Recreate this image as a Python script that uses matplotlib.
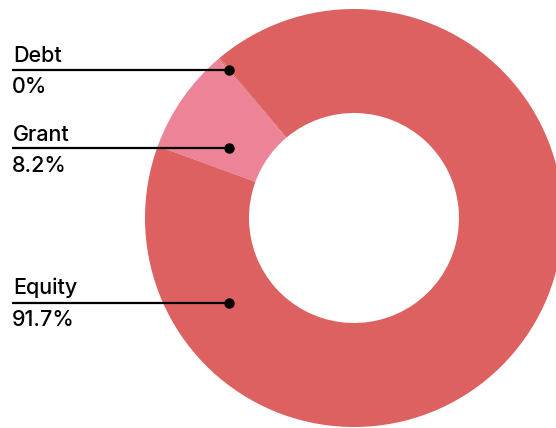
import matplotlib.pyplot as plt

labels = ["Debt", "Grant", "Equity"]
shares = [0.1, 8.2, 91.7]
shown = ["0%", "8.2%", "91.7%"]
colors = ["#dc6160", "#ec8396", "#dc6160"]

W, H = 556, 428
fig = plt.figure(figsize=(W / 100, H / 100), dpi=100)
ax = fig.add_axes([0, 0, 1, 1])

# donut, pixel-based coordinates (y measured from the bottom)
cx, cy, r = 354, H - 218, 209
ax.pie(shares, colors=colors, center=(cx, cy), radius=r, startangle=130,
       counterclock=True, frame=True,
       wedgeprops=dict(width=104, edgecolor="none", linewidth=0))
ax.set_xlim(0, W)
ax.set_ylim(0, H)
ax.set_aspect("equal")
ax.axis("off")

# leader lines with name above and share below
line_y = [70, 148, 303]
name_base = [62, 141, 294]
val_base = [93, 172, 326]
font = "Inter"
for lab, val, ly, nb, vb in zip(labels, shown, line_y, name_base, val_base):
    ax.plot([12, 229], [H - ly, H - ly], color="black", lw=1.6, solid_capstyle="butt")
    ax.plot(229, H - ly, "o", color="black", ms=6.5)
    ax.text(13, H - nb, lab, fontsize=15.5, family=font, fontweight="medium",
            va="baseline", ha="left")
    ax.text(12, H - vb, val, fontsize=15.5, family=font, fontweight="medium",
            va="baseline", ha="left")

fig.savefig("out.png", dpi=100)
